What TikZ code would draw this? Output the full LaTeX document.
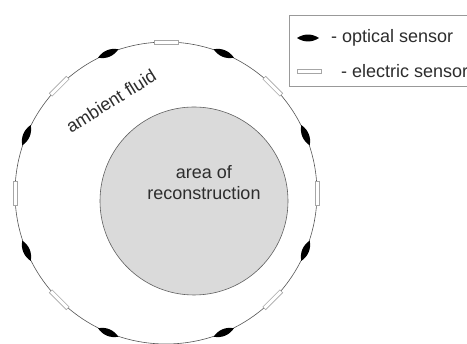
\documentclass[tikz,border=0pt]{standalone}
\usepackage{fontspec}
\setmainfont{Liberation Sans}
\usetikzlibrary{shapes.geometric,calc}
\definecolor{txt}{RGB}{45,45,45}
\definecolor{ringc}{RGB}{85,85,85}
\definecolor{innerfill}{RGB}{218,218,218}
\definecolor{innerline}{RGB}{95,95,95}
\tikzset{
  lbl/.style={text=txt, font=\fontsize{18}{21}\selectfont, inner sep=0pt},
  lens/.style={fill=black, draw=none},
  elsens/.style={rectangle, fill=white, draw=gray!70, line width=0.6pt, minimum width=24pt, minimum height=4pt, inner sep=0pt},
  ring/.style={draw=ringc, line width=0.6pt},
  innerdisk/.style={draw=innerline, fill=innerfill, line width=0.6pt},
  legendbox/.style={draw=gray!80, line width=0.6pt}
}
\newcommand{\lensat}[2]{%
  \fill[lens, shift={(#1)}, rotate=#2] (-11,0) .. controls (-4,4.6) and (4,4.6) .. (11,0) .. controls (4,-4.6) and (-4,-4.6) .. (-11,0);}
\begin{document}
\begin{tikzpicture}[x=1pt,y=1pt]
\clip (0,0) rectangle (467,344);
\fill[white] (0,0) rectangle (467,344);
% outer ring
\coordinate (C) at (166,151);
\draw[ring] (C) circle (151);
% inner disk
\coordinate (I) at (194,143);
\draw[innerdisk] (I) circle (94);
\node[lbl, align=center] (area) at (204,161) {area of\\reconstruction};
\node[lbl, rotate=32] (fluid) at (111,243) {ambient fluid};
% electric sensors
\foreach \a [count=\i] in {0,45,90,135,180,225,315}{
  \node[elsens, rotate=\a+90] (e\i) at ($(C)+(\a:151)$) {};
}
% optical sensors
\foreach \a [count=\i] in {22.5,67.5,112.5,157.5,202.5,247.5,292.5,337.5}{
  \coordinate (o\i) at ($(C)+(\a:151)$);
  \lensat{o\i}{\a+90}
}
% legend
\draw[legendbox] (289,258) rectangle (475,329);
\coordinate (lo) at (308,306);
\lensat{lo}{0}
\node[lbl, anchor=west] (lot) at (331,306) {- optical sensor};
\node[elsens] (le) at (309,273) {};
\node[lbl, anchor=west] (let) at (341,273) {- electric sensor};
\end{tikzpicture}
\end{document}
